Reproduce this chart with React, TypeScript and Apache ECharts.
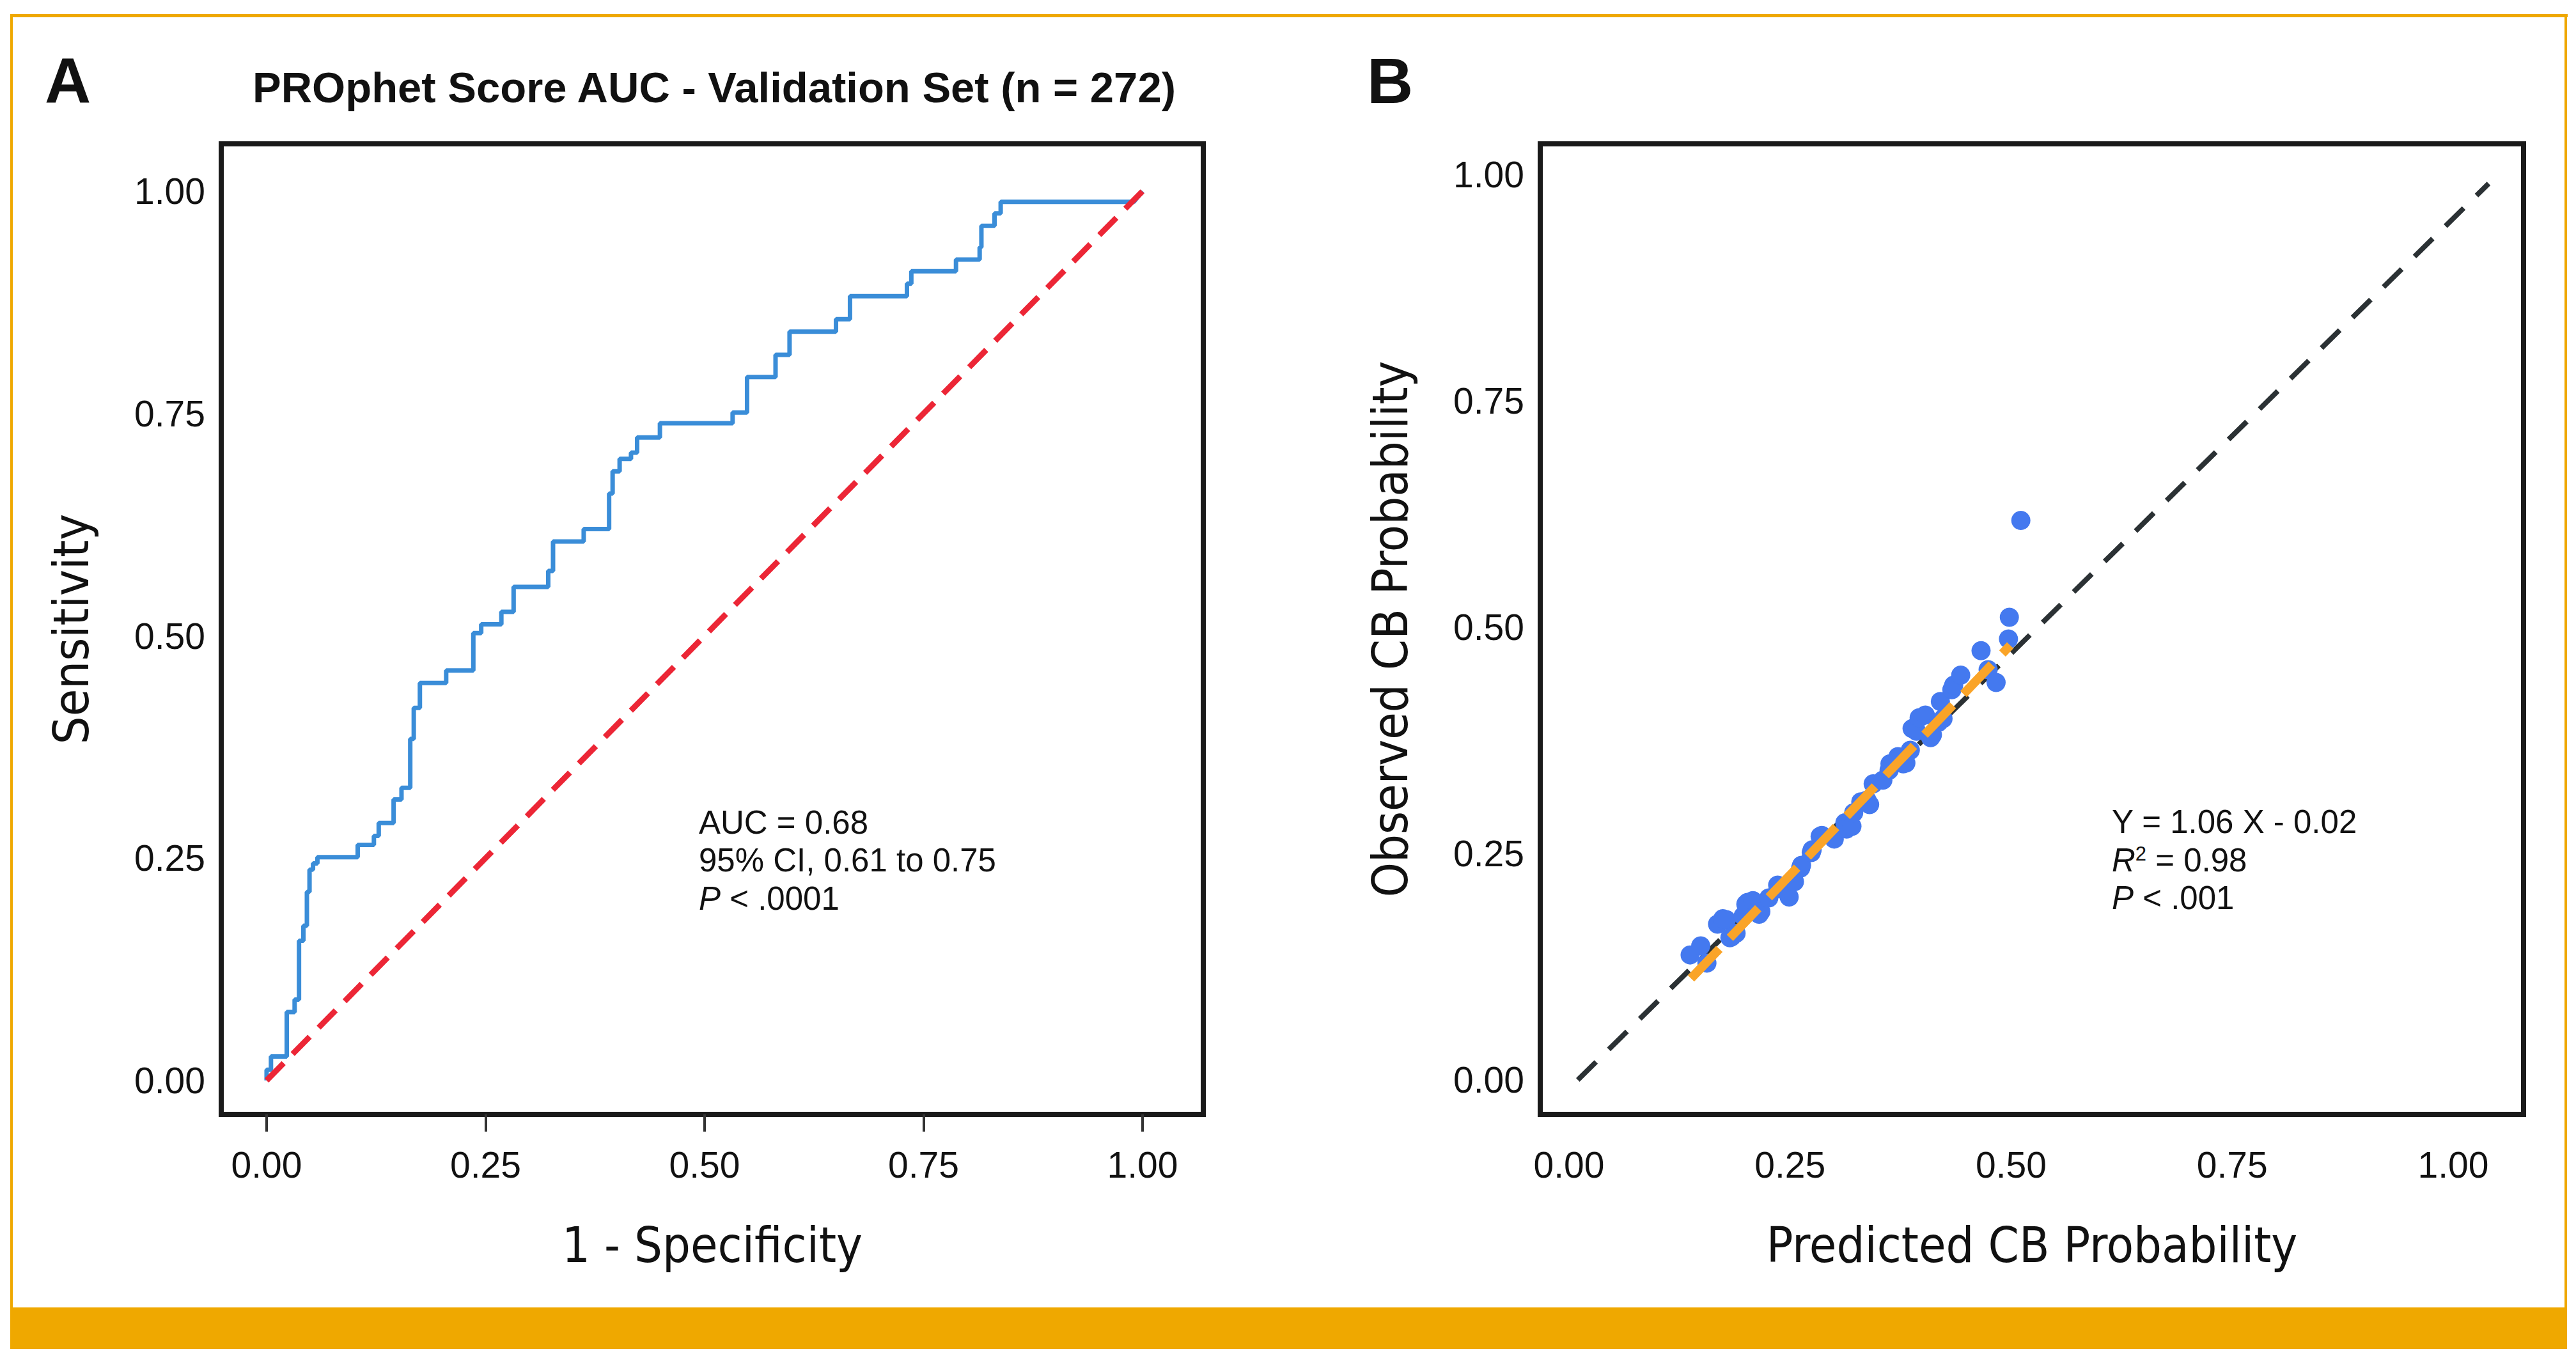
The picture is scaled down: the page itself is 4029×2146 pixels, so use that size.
import React, { useEffect, useRef } from "react";
import * as echarts from "echarts";

const W = 4029;
const H = 2146;

// Tick positions and labels
const tickValues = [0, 0.25, 0.5, 0.75, 1];
const tickLabel = (v: number) => v.toFixed(2);

// Panel A: ROC curve (1 - specificity, sensitivity)
const rocFpr = [
  0, 0, 0.005, 0.005, 0.023, 0.023, 0.032, 0.032, 0.037, 0.037, 0.042, 0.042, 0.046, 0.046,
  0.049, 0.049, 0.053, 0.053, 0.058, 0.058, 0.104, 0.104, 0.1225, 0.1225, 0.128, 0.128,
  0.145, 0.145, 0.154, 0.154, 0.164, 0.164, 0.168, 0.168, 0.175, 0.175, 0.205, 0.205,
  0.236, 0.236, 0.245, 0.245, 0.268, 0.268, 0.282, 0.282, 0.3215, 0.3215, 0.327, 0.327,
  0.362, 0.362, 0.391, 0.391, 0.395, 0.395, 0.403, 0.403, 0.416, 0.416, 0.423, 0.423,
  0.449, 0.449, 0.532, 0.532, 0.5485, 0.5485, 0.581, 0.581, 0.597, 0.597, 0.65, 0.65,
  0.666, 0.666, 0.731, 0.731, 0.736, 0.736, 0.787, 0.787, 0.814, 0.814, 0.816, 0.816,
  0.831, 0.831, 0.838, 0.838, 0.99, 1,
];
const rocTpr = [
  0, 0.012, 0.012, 0.027, 0.027, 0.077, 0.077, 0.091, 0.091, 0.157, 0.157, 0.174, 0.174, 0.212,
  0.212, 0.237, 0.237, 0.244, 0.244, 0.251, 0.251, 0.265, 0.265, 0.275, 0.275, 0.2895,
  0.2895, 0.316, 0.316, 0.329, 0.329, 0.384, 0.384, 0.419, 0.419, 0.447, 0.447, 0.461,
  0.461, 0.503, 0.503, 0.513, 0.513, 0.527, 0.527, 0.555, 0.555, 0.573, 0.573, 0.606,
  0.606, 0.62, 0.62, 0.66, 0.66, 0.685, 0.685, 0.699, 0.699, 0.706, 0.706, 0.723,
  0.723, 0.739, 0.739, 0.751, 0.751, 0.791, 0.791, 0.816, 0.816, 0.842, 0.842, 0.856,
  0.856, 0.882, 0.882, 0.896, 0.896, 0.91, 0.91, 0.923, 0.923, 0.937, 0.937, 0.961,
  0.961, 0.975, 0.975, 0.988, 0.988, 1,
];
const chanceX = [0, 1];
const chanceY = [0, 1];

// Panel B: calibration (predicted vs observed)
const calPred = [
  0.137, 0.149, 0.156, 0.168, 0.174, 0.178, 0.182, 0.184, 0.189, 0.197, 0.2, 0.202, 0.208,
  0.215, 0.217, 0.226, 0.236, 0.238, 0.249, 0.255, 0.262, 0.263, 0.274, 0.275, 0.284, 0.286,
  0.3, 0.312, 0.314, 0.32, 0.322, 0.33, 0.337, 0.34, 0.344, 0.355, 0.362, 0.363, 0.372,
  0.378, 0.381, 0.386, 0.388, 0.393, 0.396, 0.403, 0.409, 0.411, 0.418, 0.42, 0.423, 0.433,
  0.435, 0.443, 0.466, 0.474, 0.483, 0.497, 0.498, 0.511,
];
const calObs = [
  0.138, 0.148, 0.129, 0.172, 0.178, 0.177, 0.157, 0.158, 0.162, 0.181, 0.194, 0.196, 0.198,
  0.183, 0.186, 0.201, 0.215, 0.211, 0.202, 0.219, 0.234, 0.237, 0.251, 0.254, 0.269, 0.27,
  0.266, 0.284, 0.277, 0.28, 0.295, 0.307, 0.309, 0.304, 0.327, 0.331, 0.342, 0.349, 0.357,
  0.349, 0.35, 0.364, 0.388, 0.385, 0.4, 0.403, 0.378, 0.381, 0.395, 0.418, 0.399, 0.431,
  0.436, 0.447, 0.474, 0.453, 0.439, 0.487, 0.511, 0.618,
];
const refLineX = [0.01, 1.04];
const refLineY = [0.0, 0.99];
const fitLineX = [0.138, 0.499];
const fitLineY = [0.112, 0.48];

const zip = (a: number[], b: number[]) => a.map((v, i) => [v, b[i]]);

const SANS = "'Liberation Sans', Arial, Helvetica, sans-serif";
const NARROW = "'Liberation Sans Narrow', 'Arial Narrow', 'DejaVu Sans Condensed', sans-serif";
const ORANGE = "#EFA800";
const NAME_SIZE = 77;

function xAxisCfg(gridIndex: number, name: string, min: number, max: number, showTicks: boolean) {
  return {
    type: "value",
    gridIndex,
    min,
    max,
    position: "bottom",
    name,
    nameLocation: "middle",
    nameGap: 166,
    nameTextStyle: { fontFamily: NARROW, fontSize: NAME_SIZE, lineHeight: NAME_SIZE, color: "#111" },
    axisLine: { show: true, onZero: false, lineStyle: { color: "#1a1a1a", width: 8 } },
    splitLine: { show: false },
    axisTick: {
      show: showTicks,
      inside: false,
      customValues: tickValues,
      length: 27,
      lineStyle: { color: "#333", width: 4 },
    },
    axisLabel: {
      customValues: tickValues,
      formatter: tickLabel,
      margin: 50,
      fontFamily: SANS,
      fontSize: 57,
      color: "#111",
    },
  };
}

function yAxisCfg(gridIndex: number, name: string, min: number, max: number) {
  return {
    type: "value",
    gridIndex,
    min,
    max,
    position: "left",
    name,
    nameLocation: "middle",
    nameGap: 196,
    nameTextStyle: { fontFamily: NARROW, fontSize: NAME_SIZE, lineHeight: NAME_SIZE, color: "#111" },
    axisLine: { show: false, onZero: false },
    splitLine: { show: false },
    axisTick: { show: false, customValues: tickValues },
    axisLabel: {
      customValues: tickValues,
      formatter: tickLabel,
      margin: 25,
      fontFamily: SANS,
      fontSize: 57,
      color: "#111",
    },
  };
}

function annot(x: number, y: number, text: string, rich?: any) {
  return {
    type: "text",
    x,
    y,
    silent: true,
    style: {
      text,
      fontFamily: SANS,
      fontSize: 51,
      fill: "#111",
      align: "left",
      verticalAlign: "middle",
      rich,
    },
  };
}

const italicRich = {
  i: { fontFamily: SANS, fontSize: 51, fontStyle: "italic", fill: "#111" },
  s: { fontFamily: SANS, fontSize: 31, fill: "#111", verticalAlign: "top" },
};

const option: any = {
  animation: false,
  backgroundColor: "#ffffff",
  title: [
    {
      text: "PROphet Score AUC - Validation Set (n = 272)",
      left: 1117,
      top: 103,
      textAlign: "center",
      padding: 0,
      textStyle: { fontFamily: SANS, fontWeight: "bold", fontSize: 67, lineHeight: 67, color: "#111" },
    },
    {
      text: "A",
      left: 70,
      top: 76,
      padding: 0,
      textStyle: { fontFamily: SANS, fontWeight: "bold", fontSize: 100, lineHeight: 100, color: "#111" },
    },
    {
      text: "B",
      left: 2138,
      top: 76,
      padding: 0,
      textStyle: { fontFamily: SANS, fontWeight: "bold", fontSize: 100, lineHeight: 100, color: "#111" },
    },
  ],
  grid: [
    {
      left: 346,
      top: 225,
      width: 1536,
      height: 1518,
      show: true,
      borderColor: "#1a1a1a",
      borderWidth: 8,
      backgroundColor: "transparent",
      containLabel: false,
    },
    {
      left: 2409,
      top: 225,
      width: 1538,
      height: 1518,
      show: true,
      borderColor: "#1a1a1a",
      borderWidth: 8,
      backgroundColor: "transparent",
      containLabel: false,
    },
  ],
  xAxis: [
    xAxisCfg(0, "1 - Specificity", -0.0518, 1.0693, true),
    xAxisCfg(1, "Predicted CB Probability", -0.0325, 1.0795, false),
  ],
  yAxis: [
    yAxisCfg(0, "Sensitivity", -0.0381, 1.0532),
    yAxisCfg(1, "Observed CB Probability", -0.0381, 1.0339),
  ],
  series: [
    {
      type: "line",
      xAxisIndex: 0,
      yAxisIndex: 0,
      data: zip(rocFpr, rocTpr),
      showSymbol: false,
      symbol: "none",
      silent: true,
      lineStyle: { color: "#3A8DD8", width: 7 },
      z: 2,
    },
    {
      type: "line",
      xAxisIndex: 0,
      yAxisIndex: 0,
      data: zip(chanceX, chanceY),
      showSymbol: false,
      symbol: "none",
      silent: true,
      lineStyle: { color: "#EC2636", width: 9, type: [38, 20] },
      z: 3,
    },
    {
      type: "line",
      xAxisIndex: 1,
      yAxisIndex: 1,
      data: zip(refLineX, refLineY),
      showSymbol: false,
      symbol: "none",
      silent: true,
      lineStyle: { color: "#2B3134", width: 8, type: [40, 28] },
      z: 2,
    },
    {
      type: "scatter",
      xAxisIndex: 1,
      yAxisIndex: 1,
      data: zip(calPred, calObs),
      symbol: "circle",
      symbolSize: 30,
      silent: true,
      itemStyle: { color: "#4479EF", opacity: 1 },
      z: 3,
    },
    {
      type: "line",
      xAxisIndex: 1,
      yAxisIndex: 1,
      data: zip(fitLineX, fitLineY),
      showSymbol: false,
      symbol: "none",
      silent: true,
      lineStyle: { color: "#FAA428", width: 14, type: [64, 24] },
      z: 4,
    },
  ],
  graphic: [
    // orange frame
    { type: "rect", silent: true, shape: { x: 16, y: 22, width: 4000, height: 5 }, style: { fill: ORANGE } },
    { type: "rect", silent: true, shape: { x: 16, y: 22, width: 4, height: 2030 }, style: { fill: ORANGE } },
    { type: "rect", silent: true, shape: { x: 4011, y: 22, width: 4, height: 2030 }, style: { fill: ORANGE } },
    { type: "rect", silent: true, shape: { x: 16, y: 2045, width: 3999, height: 65 }, style: { fill: ORANGE } },
    // panel A annotation
    annot(1093, 1286, "AUC = 0.68"),
    annot(1093, 1345, "95% CI, 0.61 to 0.75"),
    annot(1093, 1405, "{i|P} < .0001", italicRich),
    // panel B annotation
    annot(3303, 1285, "Y = 1.06 X - 0.02"),
    annot(3303, 1345, "{i|R}{s|2} = 0.98", italicRich),
    annot(3303, 1404, "{i|P} < .001", italicRich),
  ],
};

export default function App() {
  const ref = useRef<HTMLDivElement>(null);
  useEffect(() => {
    if (!ref.current) return;
    const chart = echarts.init(ref.current, null, { renderer: "svg", width: W, height: H });
    chart.setOption(option);
    return () => chart.dispose();
  }, []);
  return (
    <div
      ref={ref}
      style={{ position: "fixed", left: 0, top: 0, width: W, height: H, background: "#fff" }}
    />
  );
}
